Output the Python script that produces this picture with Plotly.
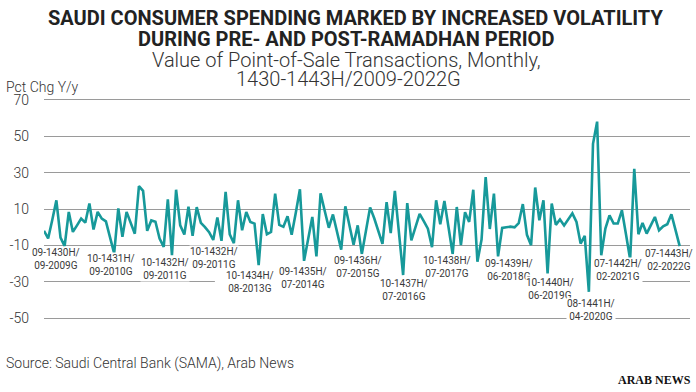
import plotly.graph_objects as go

# ---------------- data ----------------
start_year, start_month = 1430, 9
end_year, end_month = 1443, 7
hijri_months = [f"{m:02d}-{y}H" for y in range(start_year, end_year + 1) for m in range(1, 13)
                if (y, m) >= (start_year, start_month) and (y, m) <= (end_year, end_month)]

pct_chg = [
    -2, -6.2, 4, 14.8, -5.7, -10.4, 8.4, -2.6, 1, 4.7,
    2.5, 13, -1.3, 8.4, 4.7, 3.2, -5.6, -14.4, 10.3, -5.3,
    8.4, 2.4, -3.6, 22.6, 20, -2, 3.7, 3, -6.2, -10.8,
    15.3, -15.4, 20.6, 1, -4, 11.3, -4.7, 11, 2.4, 0,
    -2.7, -7, 5.3, -7.5, 19.4, -3.9, -8.8, 14.8, -1.7, 8.4,
    2.9, 2, -20.8, 7.2, -3.9, -2.6, 18.4, 1.3, 0.2, 6,
    -4.1, 8, 20.8, -18.5, -6.5, 5.6, -16, 18.6, 9, -0.3,
    7, -2.6, -12.3, 11.5, 1, -9.6, 1, -14.7, -2, 10.9,
    4.9, -2, -9.2, 13.8, -3.3, 19.9, -3, -26.3, 13.2, -7.2,
    0, 7.3, 3.3, -0.8, -11, 14.8, 1.6, 14.4, 0, -14.8,
    11.1, -9.9, 8.2, 2.9, 20.6, -19, -6.8, 27.5, -1, 18.4,
    -16, -0.4, 0, 0.3, -0.1, 2.2, 12.7, -4.2, -9.9, 21.8,
    3.8, 14.8, -25.4, 13, 1.3, 4.2, 1, 4.3, 7.6, 2.9,
    -9, -4.8, -35.5, 45.8, 58, -15.4, -0.8, 6.5, 2, 2,
    9.3, -4, -17.7, 32.1, -3.9, 2.3, -3.5, 1, 5.6, -1.7,
    0.5, 1.6, 7.1, -1.6, -10.4,
]

tick_vals = [-50, -30, -10, 10, 30, 50, 70]
tick_text = ["-50", "-30", "-10", "10", "30", "50", "70"]

label_hijri = ["09-1430H/", "10-1431H/", "10-1432H/", "10-1432H/", "10-1434H/", "09-1435H/",
               "09-1436H/", "10-1437H/", "10-1438H/", "09-1439H/", "10-1440H/", "08-1441H/",
               "07-1442H/", "07-1443H/"]
label_greg = ["09-2009G", "09-2010G", "09-2011G", "09-2011G", "08-2013G", "07-2014G",
              "07-2015G", "07-2016G", "07-2017G", "06-2018G", "06-2019G", "04-2020G",
              "02-2021G", "02-2022G"]

# label placement (axis units: month index, pct of label centre) -- layout only
label_x = [3.0, 16.2, 29.2, 41.1, 49.9, 62.7, 76.1, 87.2, 97.7, 112.6, 122.6, 132.5, 139.1, 151.4]
label_y = [-17.3, -20.9, -23.0, -17.1, -30.0, -28.1, -22.0, -34.5, -22.0, -23.4, -33.8, -45.7, -23.6, -18.1]

# ---------------- layout constants ----------------
W, H = 696, 392
ML, MR, MT, MB = 44, 6, 97.5, 71.5
PW, PH = W - ML - MR, H - MT - MB
TEAL = "#17999a"
FONT = "Roboto"


def px_x(px):
    return (px - ML) / PW


def px_y(py):
    return (H - MB - py) / PH


fig = go.Figure()
fig.add_trace(go.Scatter(
    x=hijri_months, y=pct_chg, mode="lines",
    line=dict(color=TEAL, width=2.6),
    hoverinfo="skip", showlegend=False,
))

annotations = []
for t1, t2, lx, ly in zip(label_hijri, label_greg, label_x, label_y):
    annotations.append(dict(
        x=lx, y=ly, xref="x", yref="y", text=f"{t1}<br>{t2}", showarrow=False,
        xanchor="center", yanchor="middle", align="center",
        font=dict(family=FONT, size=10, color="#3a3a3a"),
        bgcolor="white", borderpad=0,
    ))

texts = [
    ("SAUDI CONSUMER SPENDING MARKED BY INCREASED VOLATILITY", 355, 17, 20, 700, "#222222", "center"),
    ("DURING PRE- AND POST-RAMADHAN PERIOD", 346, 38, 20, 700, "#222222", "center"),
    ("Value of Point-of-Sale Transactions, Monthly,", 346, 59, 20, 300, "#333333", "center"),
    ("1430-1443H/2009-2022G", 348, 78, 20, 300, "#333333", "center"),
    ("Pct Chg Y/y", 4, 86, 14, 300, "#333333", "left"),
    ("Source: Saudi Central Bank (SAMA), Arab News", 4, 364, 14, 300, "#333333", "left"),
]
for txt, x, y, size, weight, color, anchor in texts:
    annotations.append(dict(
        x=px_x(x), y=px_y(y), xref="paper", yref="paper", text=txt, showarrow=False,
        xanchor=anchor, yanchor="middle",
        font=dict(family=FONT, size=size, weight=weight, color=color),
    ))
annotations.append(dict(
    x=px_x(693), y=px_y(381), xref="paper", yref="paper", text="ARAB NEWS", showarrow=False,
    xanchor="right", yanchor="middle",
    font=dict(family="Liberation Serif", size=12, weight=700, color="#111111"),
))

fig.update_layout(
    width=W, height=H,
    margin=dict(l=ML, r=MR, t=MT, b=MB, pad=0, autoexpand=False),
    paper_bgcolor="white", plot_bgcolor="white",
    annotations=annotations,
    shapes=[dict(type="rect", xref="x", yref="y", x0=41.4, x1=138.1, y0=-31, y1=-29,
                 fillcolor="white", line=dict(width=0), layer="between")],
    xaxis=dict(range=[0, 156.5], showgrid=False, showticklabels=False, zeroline=False,
               showline=False, ticks="", fixedrange=True, automargin=False),
    yaxis=dict(range=[-51, 71], tickvals=tick_vals, ticktext=tick_text,
               showgrid=True, gridcolor="#9a9a9a", gridwidth=1.2, zeroline=False,
               showline=False, ticks="", ticklabelstandoff=14, automargin=False,
               tickfont=dict(family=FONT, size=14, weight=300, color="#333333"),
               fixedrange=True),
    showlegend=False,
)

fig.write_html("out.html", config={"displayModeBar": False},
               post_script="document.body.style.margin='0';document.body.style.overflow='hidden';")
